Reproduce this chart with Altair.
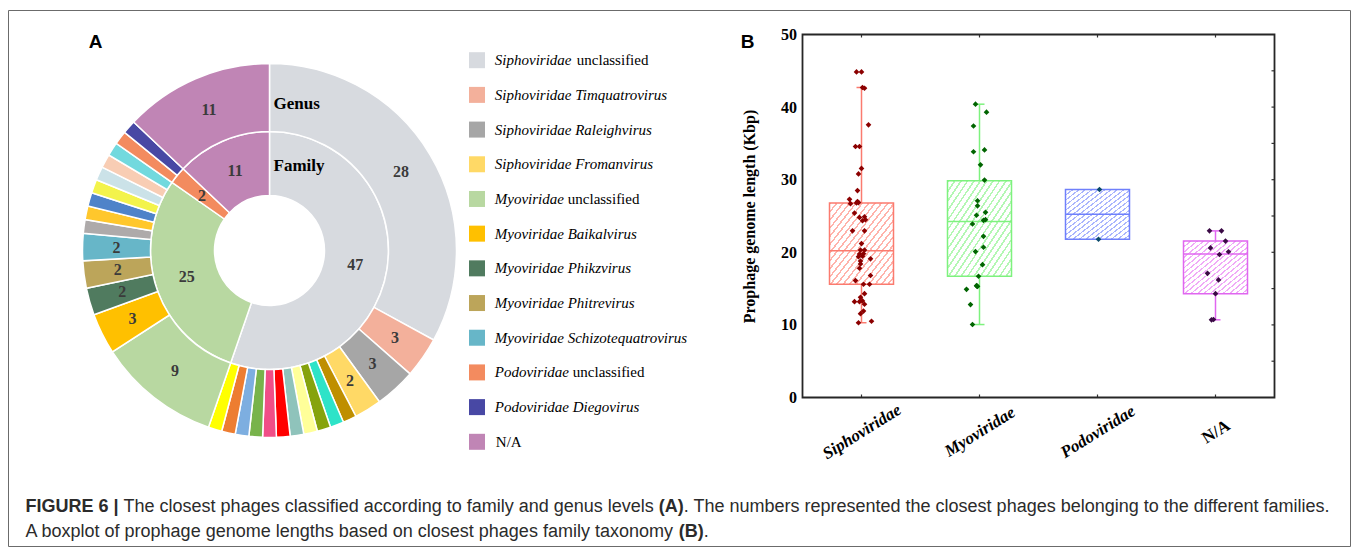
import altair as alt
import pandas as pd

# ======================= Panel A : donut data =======================
family_names = ["Siphoviridae", "Myoviridae", "Podoviridae", "N/A"]
family_counts = [47, 25, 2, 11]
family_colors = ["#d7dadf", "#b8d8a1", "#f38b5f", "#c085b5"]

genus_names = [
    "Siphoviridae unclassified", "Siphoviridae Timquatrovirus",
    "Siphoviridae Raleighvirus", "Siphoviridae Fromanvirus",
    "Siphoviridae genus 5", "Siphoviridae genus 6", "Siphoviridae genus 7",
    "Siphoviridae genus 8", "Siphoviridae genus 9", "Siphoviridae genus 10",
    "Siphoviridae genus 11", "Siphoviridae genus 12", "Siphoviridae genus 13",
    "Siphoviridae genus 14", "Siphoviridae genus 15",
    "Myoviridae unclassified", "Myoviridae Baikalvirus", "Myoviridae Phikzvirus",
    "Myoviridae Phitrevirus", "Myoviridae Schizotequatrovirus",
    "Myoviridae genus 6", "Myoviridae genus 7", "Myoviridae genus 8",
    "Myoviridae genus 9", "Myoviridae genus 10", "Myoviridae genus 11",
    "Myoviridae genus 12",
    "Podoviridae unclassified", "Podoviridae Diegovirus", "N/A",
]
genus_counts = [28, 3, 3, 2, 1, 1, 1, 1, 1, 1, 1, 1, 1, 1, 1,
                9, 3, 2, 2, 2, 1, 1, 1, 1, 1, 1, 1,
                1, 1, 11]
genus_colors = [
    "#d7dadf", "#f3b09b", "#a6a6a6", "#ffd966",
    "#bf8f00", "#2ee3c8", "#86a30d", "#ffff99", "#8fc3bb", "#ff0000",
    "#f04e87", "#78b34b", "#7daee0", "#ed7d31", "#ffff00",
    "#b8d8a1", "#ffc000", "#507b5f", "#bca55a", "#67b6c8",
    "#aeaaaa", "#ffc72c", "#4f83c9", "#f3f34b", "#cbe2e8", "#f8cdb4", "#72d9de",
    "#f38b5f", "#4848a4", "#c085b5",
]

legend_keys = [
    "Siphoviridae unclassified", "Siphoviridae Timquatrovirus",
    "Siphoviridae Raleighvirus", "Siphoviridae Fromanvirus",
    "Myoviridae unclassified", "Myoviridae Baikalvirus", "Myoviridae Phikzvirus",
    "Myoviridae Phitrevirus", "Myoviridae Schizotequatrovirus",
    "Podoviridae unclassified", "Podoviridae Diegovirus", "N/A",
]
legend_italic = [
    "Siphoviridae", "Siphoviridae Timquatrovirus", "Siphoviridae Raleighvirus",
    "Siphoviridae Fromanvirus", "Myoviridae", "Myoviridae Baikalvirus",
    "Myoviridae Phikzvirus", "Myoviridae Phitrevirus",
    "Myoviridae Schizotequatrovirus", "Podoviridae", "Podoviridae Diegovirus", "",
]
legend_plain = ["unclassified", "", "", "", "unclassified", "", "", "", "",
                "unclassified", "", "N/A"]

# ======================= Panel B : boxplot data =======================
box_cats = ["Siphoviridae", "Myoviridae", "Podoviridae", "N/A"]
box_q1 = [15.6, 16.7, 21.8, 14.3]
box_median = [20.2, 24.25, 25.25, 19.75]
box_q3 = [26.8, 29.85, 28.65, 21.55]
box_low = [10.3, 10.05, 21.8, 10.7]
box_high = [42.7, 40.4, 28.65, 22.95]

sipho_values = [44.85, 44.85, 42.7, 42.6, 37.56, 34.57, 34.57, 31.55, 30.8, 28.5,
                27.3, 26.7, 27.0, 26.85, 26.8, 25.4, 24.8, 24.9, 24.48, 24.35,
                22.96, 22.96, 21.2, 20.3, 20.3, 19.75, 19.45, 19.4, 19.8, 19.1,
                18.8, 18.4, 17.8, 16.1, 16.8, 15.6, 15.6, 14.3, 13.8, 13.2,
                13.2, 13.3, 12.85, 11.55, 11.9, 10.3, 10.5]
sipho_jitter = [-5, 0, 1, 3, 7, -6, -2, 0, -3, -4,
                -12, -11, -4, -3, -5, -7, -2, 3, 4, 1,
                -9, 3, 0, -1, 3, -2, 1, -3, 2, 9,
                -1, -1, -2, -6, 9, 2, 8, 3, -1, -7,
                -2, 1, 3, -1, 2, -3, 10]
myo_values = [40.4, 39.3, 37.4, 34.1, 33.85, 32.05, 29.95, 27.1, 26.4, 25.5,
              25.1, 24.5, 24.4, 23.9, 22.2, 20.7, 20.1, 18.3, 16.7, 15.4,
              15.3, 15.35, 14.9, 12.8, 10.05]
myo_jitter = [-4, 7, -6, 5, -6, 1, 5, -2, -2, 6,
              -3, 6, 4, -7, 4, 4, -4, 3, -1, -3,
              -2, -2.5, -13, -9, -7]
podo_values = [28.65, 21.8]
podo_jitter = [2, 1]
na_values = [22.96, 22.96, 21.55, 20.6, 20.07, 19.7, 17.1, 16.2, 14.3, 10.7, 10.75]
na_jitter = [-6, 6, 10, -5, 13, 4, -8, 3, 0, -4, -2]

box_line_colors = ["#fb7b6f", "#7ef27e", "#6f80fb", "#e066f0"]
box_hatch_colors = ["#ffb3ab", "#b4f7b4", "#aab5fd", "#f0aaf7"]
point_colors = ["#8b0000", "#006400", "#0b4a6a", "#3a0a45"]

caption_line1 = ["FIGURE 6 |", "The closest phages classified according to family and genus levels",
                 "(A)", ". The numbers represented the closest phages belonging to the different families."]
caption_line2 = ["A boxplot of prophage genome lengths based on closest phages family taxonomy",
                 "(B)", "."]
caption_bold = ["FIGURE 6 |", "(A)", "(B)"]

# ======================= helpers =======================
OX, OY = 20, 34          # page position of panel A origin
BX, BY = 802, 34         # page position of panel B origin
BW, BH = 472, 363        # panel B plot size
WA = 700

SERIF = "Liberation Serif"
SANS = "Liberation Sans"

ARIAL_REG = dict(zip("abcdefghijklmnopqrstuvwxyz",
                     [556, 556, 500, 556, 556, 278, 556, 556, 222, 222, 500, 222, 833,
                      556, 556, 556, 556, 333, 500, 278, 556, 500, 722, 500, 500, 500]))
ARIAL_REG.update({" ": 278, "T": 611, "A": 667, "B": 667, "(": 333, ")": 333, ".": 278, "|": 260})
ARIAL_BOLD = {"F": 611, "I": 278, "G": 778, "U": 722, "R": 722, "E": 667, "6": 556, " ": 278,
              "|": 280, "(": 333, ")": 333, "A": 722, "B": 722}


def text_width(s, bold, size):
    table = ARIAL_BOLD if bold else ARIAL_REG
    return sum(table.get(ch, 556) for ch in s) * size / 1000.0


one = pd.DataFrame({"k": [0]})


def label(txt, x, y, **kw):
    return alt.Chart(one).mark_text(text=txt, **kw).encode(x=alt.value(x), y=alt.value(y))


# ======================= Panel A =======================
CX, CY = 269 - OX, 250 - OY
R0, R1, R2 = 55, 119, 187

inner_df = pd.DataFrame({"name": family_names, "n": family_counts,
                         "ord": list(range(len(family_names)))})
outer_df = pd.DataFrame({"name": genus_names, "n": genus_counts,
                         "ord": list(range(len(genus_names)))})

theta = alt.Theta("n:Q", stack=True)
order = alt.Order("ord:Q")

inner_arc = alt.Chart(inner_df).mark_arc(
    innerRadius=R0, outerRadius=R1, stroke="white", strokeWidth=1.5
).encode(theta=theta, order=order,
         color=alt.Color("name:N", scale=alt.Scale(domain=family_names, range=family_colors), legend=None),
         x=alt.value(CX), y=alt.value(CY))

outer_arc = alt.Chart(outer_df).mark_arc(
    innerRadius=R1, outerRadius=R2, stroke="white", strokeWidth=1.5
).encode(theta=theta, order=order,
         color=alt.Color("name:N", scale=alt.Scale(domain=genus_names, range=genus_colors), legend=None),
         x=alt.value(CX), y=alt.value(CY))

num_style = dict(font=SERIF, fontWeight="bold", fontSize=16, color="#3b3b3b",
                 align="center", baseline="middle")
inner_txt = alt.Chart(inner_df).mark_text(radius=(R0 + R1) / 2, **num_style).encode(
    theta=theta, order=order, text="n:Q", x=alt.value(CX), y=alt.value(CY))
outer_txt = alt.Chart(outer_df).transform_calculate(
    lab="datum.n >= 2 ? '' + datum.n : ''"
).mark_text(radius=(R1 + R2) / 2, **num_style).encode(
    theta=theta, order=order, text="lab:N", x=alt.value(CX), y=alt.value(CY))

ring_names = label("Genus", 273 - OX, 103 - OY, font=SERIF, fontWeight="bold", fontSize=17,
                   color="black", align="left", baseline="middle") + \
    label("Family", 273 - OX, 165 - OY, font=SERIF, fontWeight="bold", fontSize=17,
          color="black", align="left", baseline="middle")

# custom legend
legend_df = pd.DataFrame({"key": legend_keys, "it": legend_italic, "pl": legend_plain})
ly = alt.Y("key:N", sort=legend_keys, axis=None,
           scale=alt.Scale(type="point", range=[59.7 - OY, 441.3 - OY], padding=0))
LX_SW = 476.5 - OX
LX_TX = 494.3 - OX
sw = alt.Chart(legend_df).mark_square(size=256, opacity=1).encode(
    x=alt.value(LX_SW), y=ly,
    color=alt.Color("key:N", scale=alt.Scale(domain=genus_names, range=genus_colors), legend=None))
lt_it = alt.Chart(legend_df).mark_text(
    align="left", baseline="middle", font=SERIF, fontStyle="italic", fontSize=15, color="black"
).encode(x=alt.value(LX_TX), y=ly, text="it:N")
lt_pl = alt.Chart(legend_df).transform_calculate(
    tx=f"{LX_TX} + (datum.it == 'Siphoviridae' ? 82 : datum.it == 'Myoviridae' ? 73 : "
       f"datum.it == 'Podoviridae' ? 78 : 1)"
).mark_text(
    align="left", baseline="middle", font=SERIF, fontSize=15, color="black"
).encode(x=alt.X("tx:Q", scale=None, axis=None), y=ly, text="pl:N")

# frame and captions
frame = alt.Chart(one).mark_rect(fillOpacity=0, stroke="#6b6b6b", strokeWidth=1).encode(
    x=alt.value(8 - OX), x2=alt.value(1350 - OX), y=alt.value(10 - OY), y2=alt.value(546 - OY))

panel_a_label = label("A", 95 - OX, 41 - OY, font=SANS, fontWeight="bold", fontSize=19,
                      color="black", align="center", baseline="middle")

CAP_SIZE = 18
cap_layers = []
for line, y_page in ((caption_line1, 506), (caption_line2, 531)):
    xpos = 25.0
    for k, seg in enumerate(line):
        bold = seg in caption_bold
        if k > 0 and not seg.startswith("."):
            xpos += text_width(" ", False, CAP_SIZE)
        cap_layers.append(label(seg, xpos - OX, y_page - OY, font=SANS, fontSize=CAP_SIZE,
                                fontWeight="bold" if bold else "normal", color="#2b2b2b",
                                align="left", baseline="middle"))
        xpos += text_width(seg, bold, CAP_SIZE)

panel_a = alt.layer(
    frame, inner_arc, outer_arc, inner_txt, outer_txt, ring_names,
    sw, lt_it, lt_pl, panel_a_label, *cap_layers
).resolve_scale(color="independent").properties(width=WA, height=BH)

# ======================= Panel B =======================
box_df = pd.DataFrame({"cat": box_cats, "q1": box_q1, "med": box_median, "q3": box_q3,
                       "lo": box_low, "hi": box_high, "idx": list(range(len(box_cats)))})

pts = []
for cat, vals, jit in ((box_cats[0], sipho_values, sipho_jitter),
                       (box_cats[1], myo_values, myo_jitter),
                       (box_cats[2], podo_values, podo_jitter),
                       (box_cats[3], na_values, na_jitter)):
    i = box_cats.index(cat)
    for v, j in zip(vals, jit):
        pts.append({"cat": cat, "v": v, "px": i + j / (BW / 4)})
pts_df = pd.DataFrame(pts)

xs = alt.Scale(domain=[-0.5, len(box_cats) - 0.5], nice=False, zero=False)
ys = alt.Scale(domain=[0, 50], nice=False, zero=True)
label_expr = "[" + ",".join(f"'{c}'" for c in box_cats) + "][datum.value]"
X_AXIS = alt.Axis(values=list(range(len(box_cats))), labelExpr=label_expr, title=None,
                  ticks=False, domain=False, grid=False, labelAngle=-32,
                  labelAlign="center", labelBaseline="middle", labelPadding=34,
                  labelFont=SERIF, labelFontWeight="bold", labelFontSize=17,
                  labelFontStyle={"condition": {"test": "datum.value == 3", "value": "normal"},
                                  "value": "italic"},
                  labelColor="black", labelOverlap=False, labelFlush=False, labelBound=False)
Y_AXIS = alt.Axis(values=[0, 10, 20, 30, 40, 50], title="Prophage genome length (Kbp)",
                  ticks=False, domain=False, grid=False, labelPadding=6,
                  labelFont=SERIF, labelFontWeight="bold", labelFontSize=16, labelColor="black",
                  titleFont=SERIF, titleFontWeight="bold", titleFontSize=16, titleColor="black",
                  titlePadding=23, labelFlush=False, labelOverlap=False)

stroke_scale = alt.Scale(domain=box_cats, range=box_line_colors)


def hatch(color, n=20, frac=0.3):
    stops = []
    for k in range(n):
        a, b, c = k / n, (k + frac) / n, (k + 1) / n
        stops += [alt.GradientStop(color=color, offset=a), alt.GradientStop(color=color, offset=b),
                  alt.GradientStop(color="#ffffff", offset=b), alt.GradientStop(color="#ffffff", offset=c)]
    return alt.LinearGradient(gradient="linear", stops=stops, x1=0, y1=0, x2=1, y2=1)


HALF = 32 / (BW / 4)   # half box width in category units
CAP = 5 / (BW / 4)

box_layers = []
for i, c in enumerate(box_cats):
    box_layers.append(
        alt.Chart(box_df).transform_filter(alt.datum.cat == c).transform_calculate(
            xl=f"datum.idx - {HALF}", xr=f"datum.idx + {HALF}"
        ).mark_rect(fill=hatch(box_hatch_colors[i]), stroke=box_line_colors[i], strokeWidth=1.5).encode(
            x=alt.X("xl:Q", scale=xs, axis=X_AXIS), x2="xr:Q",
            y=alt.Y("q1:Q", scale=ys, axis=Y_AXIS), y2="q3:Q"))

base_box = alt.Chart(box_df).transform_calculate(
    xl=f"datum.idx - {HALF}", xr=f"datum.idx + {HALF}",
    cl=f"datum.idx - {CAP}", cr=f"datum.idx + {CAP}")
stroke_enc = alt.Stroke("cat:N", scale=stroke_scale, legend=None)

whisk_lo = base_box.mark_rule(strokeWidth=1.5).encode(
    x=alt.X("idx:Q", scale=xs, axis=X_AXIS), y=alt.Y("lo:Q", scale=ys, axis=Y_AXIS), y2="q1:Q",
    stroke=stroke_enc)
whisk_hi = base_box.mark_rule(strokeWidth=1.5).encode(
    x=alt.X("idx:Q", scale=xs, axis=X_AXIS), y=alt.Y("q3:Q", scale=ys, axis=Y_AXIS), y2="hi:Q",
    stroke=stroke_enc)
median = base_box.mark_rule(strokeWidth=1.5).encode(
    x=alt.X("xl:Q", scale=xs, axis=X_AXIS), x2="xr:Q",
    y=alt.Y("med:Q", scale=ys, axis=Y_AXIS), stroke=stroke_enc)
caps_lo = base_box.transform_filter("datum.lo < datum.q1").mark_rule(strokeWidth=1.5).encode(
    x=alt.X("cl:Q", scale=xs, axis=X_AXIS), x2="cr:Q",
    y=alt.Y("lo:Q", scale=ys, axis=Y_AXIS), stroke=stroke_enc)
caps_hi = base_box.transform_filter("datum.hi > datum.q3").mark_rule(strokeWidth=1.5).encode(
    x=alt.X("cl:Q", scale=xs, axis=X_AXIS), x2="cr:Q",
    y=alt.Y("hi:Q", scale=ys, axis=Y_AXIS), stroke=stroke_enc)

points = alt.Chart(pts_df).mark_point(shape="diamond", filled=True, size=32, opacity=1).encode(
    x=alt.X("px:Q", scale=xs, axis=X_AXIS), y=alt.Y("v:Q", scale=ys, axis=Y_AXIS),
    color=alt.Color("cat:N", scale=alt.Scale(domain=box_cats, range=point_colors), legend=None))

right_ticks = [5, 10, 15, 20, 25, 30, 35, 40, 45]
rt = alt.Chart(pd.DataFrame({"t": right_ticks})).mark_rule(color="#333", strokeWidth=1.2).encode(
    y=alt.Y("t:Q", scale=ys, axis=Y_AXIS), x=alt.value(BW - 3), x2=alt.value(BW))
top_t = alt.Chart(box_df).mark_rule(color="#333", strokeWidth=1.2).encode(
    x=alt.X("idx:Q", scale=xs, axis=X_AXIS), y=alt.value(0), y2=alt.value(3))
bot_t = alt.Chart(box_df).mark_rule(color="#333", strokeWidth=1.2).encode(
    x=alt.X("idx:Q", scale=xs, axis=X_AXIS), y=alt.value(BH - 3), y2=alt.value(BH))

b_frame = alt.Chart(one).mark_rect(fillOpacity=0, stroke="#262626", strokeWidth=1.8).encode(
    x=alt.value(0), x2=alt.value(BW), y=alt.value(0), y2=alt.value(BH))
panel_b_label = label("B", 747 - BX, 41 - BY, font=SANS, fontWeight="bold", fontSize=19,
                      color="black", align="center", baseline="middle")

panel_b = alt.layer(
    *box_layers, whisk_lo, whisk_hi, caps_lo, caps_hi, median, points,
    rt, top_t, bot_t, b_frame, panel_b_label
).properties(width=BW, height=BH)

chart = alt.hconcat(panel_a, panel_b, spacing=BX - OX - WA, bounds="flush").properties(
    padding={"left": 7.5, "top": 9.5, "right": 0, "bottom": 0}
).configure_view(strokeWidth=0)

chart.save("out.html", embed_options={"renderer": "svg", "actions": False})
